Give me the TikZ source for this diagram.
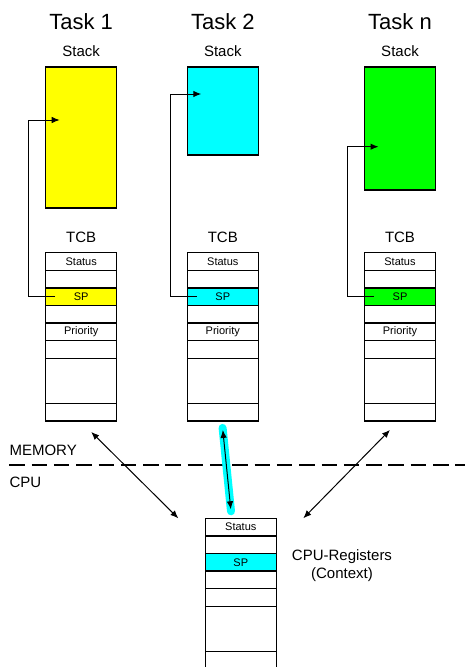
\documentclass[tikz,border=0pt]{standalone}
\usepackage{fontspec}
\setmainfont{Liberation Sans}
\usetikzlibrary{positioning, arrows.meta}
\definecolor{stackyellow}{RGB}{255,255,0}
\definecolor{stackcyan}{RGB}{0,255,255}
\definecolor{stackgreen}{RGB}{0,255,0}

\begin{document}
\begin{tikzpicture}[x=1pt,y=1pt,>={Latex[length=8pt,width=6.5pt]},
        reg cell/.style={draw,line width=1.3pt,minimum width=71pt,minimum height=17.6pt,
                         inner sep=0pt,outer sep=0pt,font=\fontsize{11}{11}\selectfont},
        big cell/.style={reg cell,minimum height=45pt},
        stack box/.style={draw,line width=1.3pt,minimum width=71pt,outer sep=0pt},
        head/.style={font=\fontsize{15}{17.7}\selectfont},
        title/.style={font=\fontsize{22}{22}\selectfont},
        ptr/.style={->,line width=1pt},
        bus/.style={<->,line width=1pt}]

    \useasboundingbox (0,0) rectangle (465,-667);
    \clip (0,0) rectangle (465,-667);

    % stacks
    \node[stack box,fill=stackyellow,minimum height=141pt] (s1) at (81.2,-137.5) {};
    \node[stack box,fill=stackcyan,minimum height=88pt] (s2) at (222.8,-111) {};
    \node[stack box,fill=stackgreen,minimum height=123pt] (s3) at (400,-128.5) {};

    \foreach \i/\name in {1/Task 1,2/Task 2,3/Task n}{
        \node[head,above=7pt of s\i] (sl\i) {Stack};
        \node[title,above=8.7pt of sl\i] (task\i) {\name};
    }

    % TCBs
    \foreach \i/\x/\col/\dy in {1/81.2/stackyellow/17.5,2/222.8/stackcyan/17,3/400/stackgreen/-18.2}{
        \node[reg cell] (t\i r1) at (\x,-261.5) {Status};
        \node[reg cell,below=0pt of t\i r1] (t\i r2) {};
        \node[reg cell,fill=\col,below=0pt of t\i r2] (t\i r3) {SP};
        \node[reg cell,below=0pt of t\i r3] (t\i r4) {};
        \node[reg cell,below=0pt of t\i r4] (t\i r5) {Priority};
        \node[reg cell,below=0pt of t\i r5] (t\i r6) {};
        \node[big cell,below=0pt of t\i r6] (t\i r7) {};
        \node[reg cell,below=0pt of t\i r7] (t\i r8) {};
        \node[head,above=7pt of t\i r1] (tl\i) {TCB};
        % SP -> stack
        \draw[ptr] ([xshift=9.3pt]t\i r3.west) -- ++(-26.5pt,0) |- ([xshift=14pt,yshift=\dy pt]s\i.west);
    }

    % CPU registers
    \node[reg cell] (c1) at (240.8,-527.1) {Status};
    \node[reg cell,below=0pt of c1] (c2) {};
    \node[reg cell,fill=stackcyan,below=0pt of c2] (c3) {SP};
    \node[reg cell,below=0pt of c3] (c4) {};
    \node[reg cell,below=0pt of c4] (c5) {};
    \node[big cell,below=0pt of c5] (c6) {};
    \node[reg cell,below=0pt of c6] (c7) {};
    \node[head,align=center] (ctx) at (342,-565.4) {CPU-Registers\\(Context)};

    % memory / cpu border
    \draw[line width=1.6pt,dash pattern=on 15.5pt off 6.8pt] (9.3,-465) -- (465,-465);
    \node[head,anchor=west] (mem) at (6,-450) {MEMORY};
    \node[head,anchor=west] (cpu) at (6,-482.7) {CPU};

    % context switch
    \draw[bus] ([xshift=10pt,yshift=-11pt]t1r8.south) -- ([xshift=-27pt]c1.north west);
    \draw[stackcyan,line width=8pt,line cap=round,shorten <=-2pt,shorten >=-2pt]
        ([yshift=-9pt]t2r8.south) -- ([xshift=-10pt,yshift=9pt]c1.north);
    \draw[bus] ([yshift=-9pt]t2r8.south) -- ([xshift=-10pt,yshift=9pt]c1.north);
    \draw[bus] ([xshift=-10pt,yshift=-9pt]t3r8.south) -- ([xshift=27pt]c1.north east);
\end{tikzpicture}
\end{document}
